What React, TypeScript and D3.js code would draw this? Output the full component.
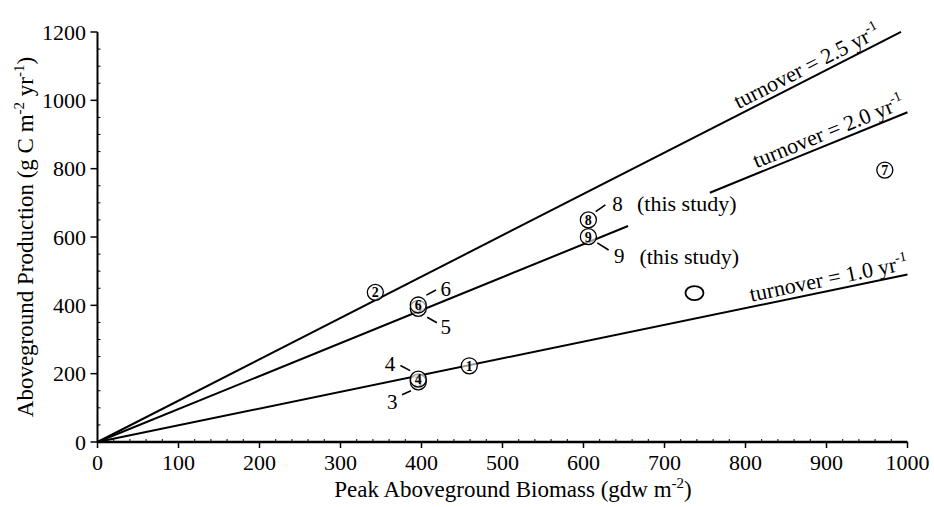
import React from "react";
import * as d3 from "d3";

// Turnover reference lines (slope in g C per gdw, where they end, the gap left for labels)
const turnoverNames = ["2.5", "2.0", "1.0"];
const turnoverSlopes = [1.21, 0.965, 0.49];
const turnoverSegments = [
  [[0, 992]],
  [
    [0, 655],
    [756, 1000],
  ],
  [[0, 1000]],
];
const turnoverLabelEnds = [971, 1000, 1003];

// Sites: biomass (gdw m-2) vs production (g C m-2 yr-1)
const siteIds = [1, 2, 3, 4, 5, 6, 7, 8, 9];
const siteBiomass = [459, 343, 396, 396, 396, 396, 972, 606, 606];
const siteProduction = [223, 438, 176, 184, 391, 401, 796, 650, 601];

// Unlabelled open symbol
const openBiomass = [737];
const openProduction = [436];

// Callouts: text, label position and leader line (data units)
const calloutText = ["6", "5", "4", "3", "8", "9"];
const calloutX = [430, 430, 361, 364, 642, 644];
const calloutY = [450, 337, 228, 118, 699, 544];
const leaderFrom = [
  [406, 430],
  [407, 365],
  [374, 224],
  [376, 138],
  [615, 674],
  [617, 583],
];
const leaderTo = [
  [418, 445],
  [419, 349],
  [386, 209],
  [387, 150],
  [627, 694],
  [631, 562],
];
const studyNoteX = [666, 669];
const studyNoteY = [699, 544];

const xTicks = [0, 100, 200, 300, 400, 500, 600, 700, 800, 900, 1000];
const yTicks = [0, 200, 400, 600, 800, 1000, 1200];

const W = 934;
const H = 507;
const FONT = "'Liberation Serif', 'Times New Roman', serif";

export default function App() {
  const x = d3.scaleLinear().domain([0, 1000]).range([97.5, 907.5]);
  const y = d3.scaleLinear().domain([0, 1200]).range([442, 32]);

  const xMinor = d3.range(0, 1001, 20).filter((v) => v % 100 !== 0);
  const yMinor = d3.range(0, 1201, 50).filter((v) => v % 200 !== 0);

  const line = d3
    .line<number>()
    .x((d) => x(d[0]))
    .y((d) => y(d[1]));

  return (
    <svg
      width={W}
      height={H}
      style={{ position: "absolute", left: 0, top: 0, background: "#fff" }}
      fontFamily={FONT}
    >
      {/* turnover lines */}
      {turnoverSlopes.map((s, i) =>
        turnoverSegments[i].map((seg, j) => (
          <path
            key={`l${i}-${j}`}
            d={line([
              [seg[0], seg[0] * s],
              [seg[1], seg[1] * s],
            ] as any) as string}
            stroke="#000"
            strokeWidth={2}
            fill="none"
          />
        ))
      )}

      {/* turnover labels along lines */}
      {turnoverSlopes.map((s, i) => {
        const xe = turnoverLabelEnds[i];
        const px = x(xe);
        const py = y(xe * s);
        const ang =
          (Math.atan2(y(1000 * s) - y(0), x(1000) - x(0)) * 180) / Math.PI;
        return (
          <text
            key={`t${i}`}
            transform={`translate(${px},${py}) rotate(${ang})`}
            dy={-5}
            textAnchor="end"
            fontSize={22}
          >
            {`turnover = ${turnoverNames[i]} yr`}
            <tspan fontSize={14} dy={-9}>
              -1
            </tspan>
          </text>
        );
      })}

      {/* axes */}
      <line x1={x(0)} x2={x(0)} y1={y(1200)} y2={y(0)} stroke="#000" strokeWidth={2} />
      <line x1={x(0)} x2={x(1000)} y1={y(0)} y2={y(0)} stroke="#000" strokeWidth={2.5} />
      {yTicks.map((t) => (
        <g key={`yt${t}`}>
          <line x1={x(0) - 7} x2={x(0)} y1={y(t)} y2={y(t)} stroke="#000" strokeWidth={1.5} />
          <text x={86} y={y(t)} dy="0.35em" textAnchor="end" fontSize={22}>
            {t}
          </text>
        </g>
      ))}
      {yMinor.map((t) => (
        <line key={`ym${t}`} x1={x(0)} x2={x(0) + 3} y1={y(t)} y2={y(t)} stroke="#000" strokeWidth={1} />
      ))}
      {xTicks.map((t) => (
        <g key={`xt${t}`}>
          <line x1={x(t)} x2={x(t)} y1={y(0)} y2={y(0) + 6} stroke="#000" strokeWidth={1.5} />
          <text x={x(t)} y={470} textAnchor="middle" fontSize={22}>
            {t}
          </text>
        </g>
      ))}
      {xMinor.map((t) => (
        <line key={`xm${t}`} x1={x(t)} x2={x(t)} y1={y(0)} y2={y(0) - 3} stroke="#000" strokeWidth={1} />
      ))}

      {/* axis titles */}
      <text x={513} y={497} textAnchor="middle" fontSize={23}>
        Peak Aboveground Biomass (gdw m
        <tspan fontSize={15} dy={-9}>
          -2
        </tspan>
        <tspan dy={9}>)</tspan>
      </text>
      <text
        transform={`translate(33,${(y(0) + y(1200)) / 2}) rotate(-90)`}
        textAnchor="middle"
        fontSize={23}
      >
        Aboveground Production (g C m
        <tspan fontSize={15} dy={-9}>
          -2
        </tspan>
        <tspan dy={9}> yr</tspan>
        <tspan fontSize={15} dy={-9}>
          -1
        </tspan>
        <tspan dy={9}>)</tspan>
      </text>

      {/* leaders and callout labels */}
      {calloutText.map((c, i) => (
        <g key={`c${i}`}>
          <line
            x1={x(leaderFrom[i][0])}
            y1={y(leaderFrom[i][1])}
            x2={x(leaderTo[i][0])}
            y2={y(leaderTo[i][1])}
            stroke="#000"
            strokeWidth={1.6}
          />
          <text x={x(calloutX[i])} y={y(calloutY[i])} dy="0.35em" textAnchor="middle" fontSize={21}>
            {c}
          </text>
        </g>
      ))}
      {studyNoteX.map((v, i) => (
        <text key={`s${i}`} x={x(v)} y={y(studyNoteY[i])} dy="0.35em" fontSize={22}>
          (this study)
        </text>
      ))}

      {/* site symbols */}
      {siteIds.map((id, i) => (
        <g key={`p${id}`}>
          <circle
            cx={x(siteBiomass[i])}
            cy={y(siteProduction[i])}
            r={8}
            fill="#fff"
            fillOpacity={0.6}
            stroke="#000"
            strokeWidth={1.3}
          />
          <text
            x={x(siteBiomass[i])}
            y={y(siteProduction[i])}
            dy="0.36em"
            textAnchor="middle"
            fontSize={14}
            fontWeight="bold"
          >
            {id}
          </text>
        </g>
      ))}
      {openBiomass.map((v, i) => (
        <ellipse
          key={`o${i}`}
          cx={x(v)}
          cy={y(openProduction[i])}
          rx={9}
          ry={7}
          fill="none"
          stroke="#000"
          strokeWidth={1.8}
        />
      ))}
    </svg>
  );
}
